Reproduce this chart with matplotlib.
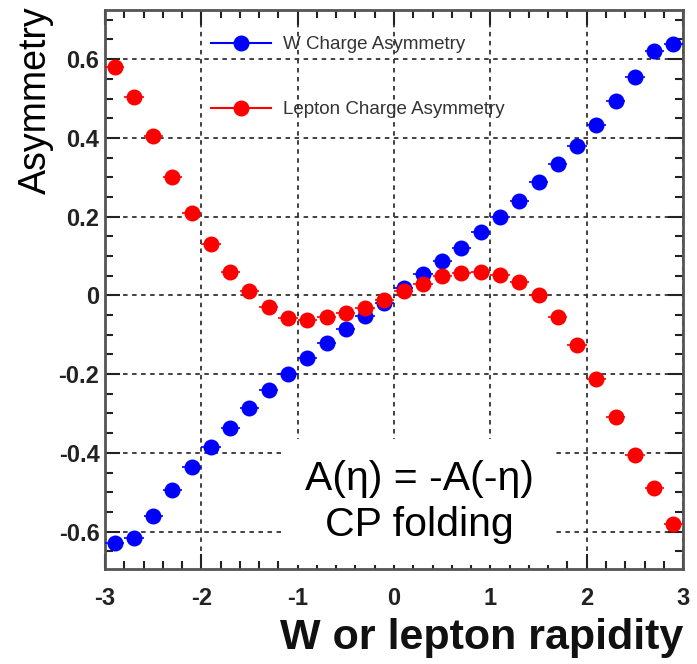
import numpy as np
import matplotlib.pyplot as plt
from matplotlib.lines import Line2D
from matplotlib.ticker import MultipleLocator, FuncFormatter

# rapidity bin centres
eta = [-2.9, -2.7, -2.5, -2.3, -2.1, -1.9, -1.7, -1.5, -1.3, -1.1,
       -0.9, -0.7, -0.5, -0.3, -0.1, 0.1, 0.3, 0.5, 0.7, 0.9,
       1.1, 1.3, 1.5, 1.7, 1.9, 2.1, 2.3, 2.5, 2.7, 2.9]
bin_half = 0.1

w_asym = [-0.628, -0.617, -0.560, -0.494, -0.435, -0.385, -0.336, -0.285, -0.240, -0.200,
          -0.160, -0.120, -0.086, -0.053, -0.020, 0.018, 0.055, 0.088, 0.120, 0.162,
          0.200, 0.240, 0.288, 0.334, 0.380, 0.433, 0.493, 0.554, 0.620, 0.638]
lep_asym = [0.580, 0.505, 0.405, 0.300, 0.210, 0.130, 0.060, 0.010, -0.030, -0.058,
            -0.062, -0.056, -0.045, -0.033, -0.013, 0.010, 0.030, 0.048, 0.058, 0.060,
            0.053, 0.035, 0.000, -0.055, -0.127, -0.213, -0.310, -0.405, -0.490, -0.580]

labels = ["W Charge Asymmetry", "Lepton Charge Asymmetry"]

plt.rcParams['font.family'] = ['Liberation Sans', 'DejaVu Sans']
plt.rcParams['axes.unicode_minus'] = False

fig = plt.figure(figsize=(6.97, 6.64), dpi=100)
ax = fig.add_axes([0.1506, 0.1431, 0.8294, 0.8419])

ax.errorbar(eta, w_asym, xerr=bin_half, fmt='o', color='#0000ff', ms=11.5,
            mew=0, elinewidth=1.2, capsize=0, zorder=3)
ax.errorbar(eta, lep_asym, xerr=bin_half, fmt='o', color='#ff0000', ms=11.5,
            mew=0, elinewidth=1.2, capsize=0, zorder=3)

ax.set_xlim(-3, 3)
ax.set_ylim(-0.695, 0.725)

ax.xaxis.set_major_locator(MultipleLocator(1))
ax.xaxis.set_minor_locator(MultipleLocator(0.2))
ax.yaxis.set_major_locator(MultipleLocator(0.2))
ax.yaxis.set_minor_locator(MultipleLocator(0.05))
fmt = FuncFormatter(lambda v, p: '%g' % round(v, 2))
ax.xaxis.set_major_formatter(fmt)
ax.yaxis.set_major_formatter(fmt)

ax.tick_params(which='both', direction='in', top=True, right=True,
               color='#222222', width=1.5)
ax.tick_params(which='major', length=11)
ax.tick_params(which='minor', length=5.5)
ax.tick_params(axis='x', which='major', pad=13, labelsize=17)
ax.tick_params(axis='y', which='major', pad=4, labelsize=17)
for lab in ax.get_xticklabels() + ax.get_yticklabels():
    lab.set_fontweight('bold')
    lab.set_color('#222222')

for sp in ax.spines.values():
    sp.set_linewidth(2)
    sp.set_color('#555555')

ax.set_axisbelow(True)
ax.grid(True, which='major', color='#333333', linestyle=(0, (2.5, 2.5)), linewidth=1.3)

ax.set_ylabel("Asymmetry", fontsize=27, loc='top')
ax.yaxis.set_label_coords(-0.088, 1.006)
ax.set_xlabel("W or lepton rapidity", fontsize=31, fontweight='bold', loc='right',
              color='#111111')
ax.xaxis.set_label_coords(1.0, -0.088)

ax.text(0.26, -0.525, "A(η) = -A(-η)\nCP folding", fontsize=29.5, ha='center', va='center',
        linespacing=1.28, zorder=2,
        bbox=dict(boxstyle='square,pad=0.5', facecolor='white', edgecolor='none'))

handles = [Line2D([], [], color='#0000ff', marker='o', ms=11.5, mew=0, lw=1.5),
           Line2D([], [], color='#ff0000', marker='o', ms=11.5, mew=0, lw=1.5)]
leg = ax.legend(handles, labels, loc='upper left', bbox_to_anchor=(0.155, 0.983),
                frameon=False, fontsize=13.5, handlelength=3.2, handletextpad=0.6,
                labelspacing=2.55, labelcolor='#333333')

fig.savefig("out.png", dpi=100)
